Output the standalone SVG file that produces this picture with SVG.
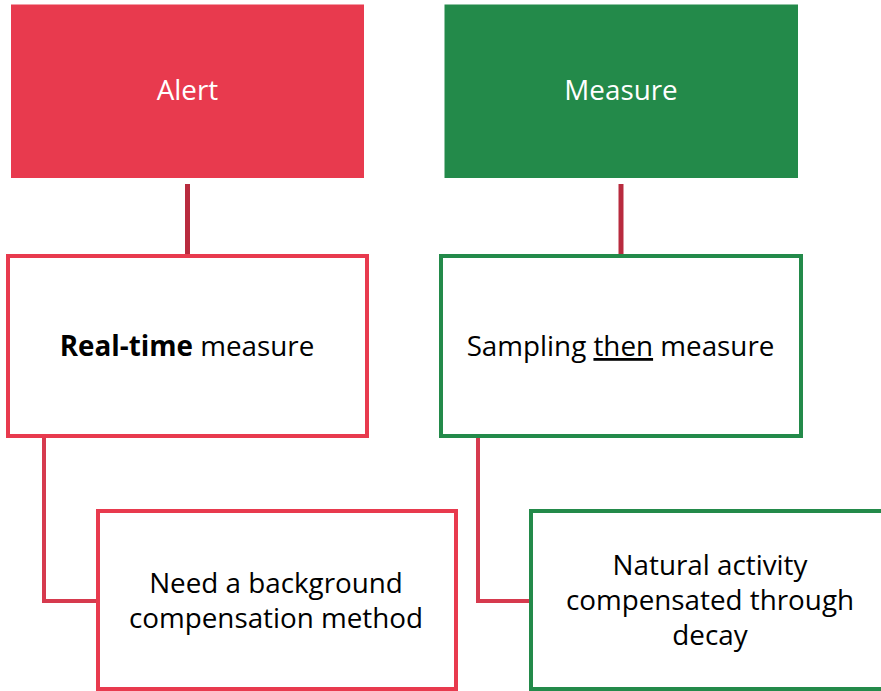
<svg xmlns="http://www.w3.org/2000/svg" width="881" height="691" viewBox="0 0 881 691">
  <style>
    text { font-family: "Open Sans", "Liberation Sans", sans-serif; font-size: 27.8px; text-anchor: middle; }
    .head { fill: #ffffff; }
    .body { fill: #000000; }
    .red-box { fill: #ffffff; stroke: #E83A4E; stroke-width: 4; }
    .green-box { fill: #ffffff; stroke: #238A4A; stroke-width: 4; }
    .link-top { fill: none; stroke: #B82B3E; stroke-width: 5; }
    .link-side { fill: none; stroke: #D63A4E; stroke-width: 4; }
  </style>

  <g id="connectors">
    <line class="link-top" x1="187.5" y1="184" x2="187.5" y2="256"/>
    <line class="link-top" x1="621" y1="184" x2="621" y2="256"/>
    <polyline class="link-side" points="44,436 44,601 98,601"/>
    <polyline class="link-side" points="478,436 478,601 531,601"/>
  </g>

  <g id="alert">
    <rect x="11" y="4.5" width="353" height="173.5" fill="#E83A4E"/>
    <text class="head" x="187.5" y="100">Alert</text>
  </g>

  <g id="measure">
    <rect x="444.5" y="4.5" width="353.5" height="173.5" fill="#238A4A"/>
    <text class="head" x="621" y="100">Measure</text>
  </g>

  <g id="realtime">
    <rect class="red-box" x="8" y="256" width="359" height="180"/>
    <text class="body" x="187" y="356"><tspan font-weight="bold">Real-time</tspan> measure</text>
  </g>

  <g id="sampling">
    <rect class="green-box" x="441" y="256" width="360" height="180"/>
    <text class="body" x="620.5" y="356">Sampling <tspan text-decoration="underline">then</tspan> measure</text>
  </g>

  <g id="background">
    <rect class="red-box" x="98" y="511" width="358" height="178"/>
    <text class="body" x="276" y="593">Need a background</text>
    <text class="body" x="276" y="628">compensation method</text>
  </g>

  <g id="natural">
    <rect class="green-box" x="531" y="511" width="360" height="178"/>
    <text class="body" x="710" y="575">Natural activity</text>
    <text class="body" x="710" y="610">compensated through</text>
    <text class="body" x="710" y="645">decay</text>
  </g>
</svg>
